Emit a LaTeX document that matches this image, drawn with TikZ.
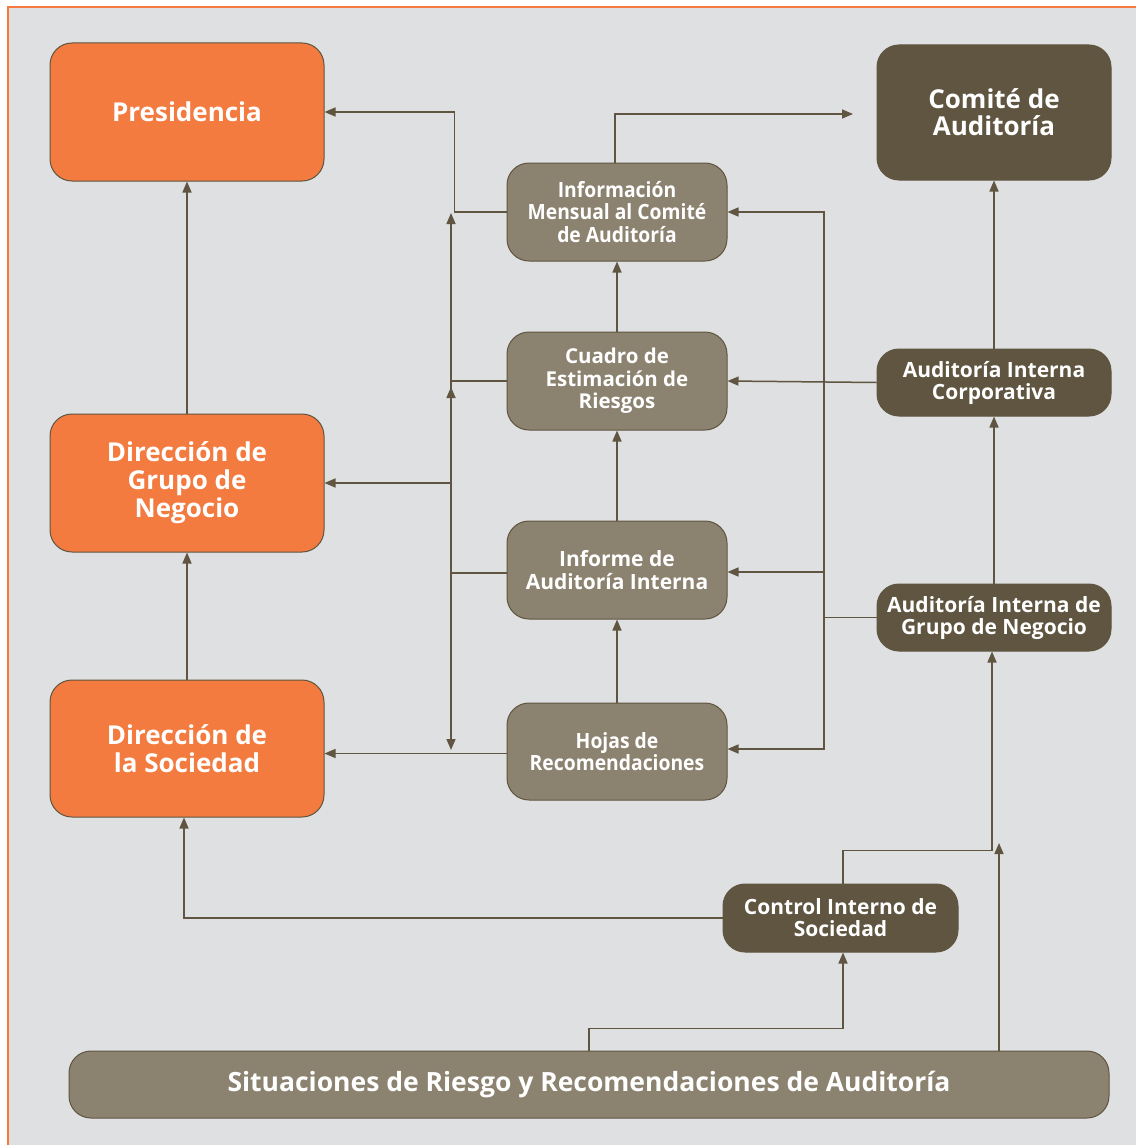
\documentclass[tikz,border=0pt]{standalone}
\usepackage{fontspec}
\setmainfont{Open Sans}
\newfontfamily\condfont[FakeStretch=0.92]{Open Sans}
\usetikzlibrary{arrows.meta,calc}
\definecolor{orng}{HTML}{F37B40}
\definecolor{darkb}{HTML}{5F5540}
\definecolor{medb}{HTML}{8C8270}
\definecolor{bgc}{HTML}{DFE0E2}
\definecolor{lnc}{HTML}{5F5540}
\tikzset{
  box/.style={draw=darkb, line width=1pt, rounded corners=22pt, text=white, align=center, inner sep=0pt},
  orbox/.style={box, fill=orng, minimum width=274pt, minimum height=138pt, font=\bfseries\fontsize{26}{28}\selectfont},
  mbox/.style={box, fill=medb, minimum width=220pt, minimum height=98pt, font=\bfseries\fontsize{20.5}{22.5}\selectfont},
  cbox/.style={mbox, font=\condfont\bfseries\fontsize{21}{22.5}\selectfont},
  dbox/.style={box, fill=darkb, minimum width=234pt, minimum height=67pt, font=\bfseries\fontsize{21}{22}\selectfont},
  arr/.style={draw=lnc, line width=1.5pt, -{Triangle[length=11pt,width=9pt]}},
  ln/.style={draw=lnc, line width=1.5pt},
}
\begin{document}
\begin{tikzpicture}[x=1pt,y=-1pt]
\useasboundingbox (0,0) rectangle (1136,1145);
\fill[white] (0,0) rectangle (1136,1145);
\fill[bgc] (8,7) rectangle (1136,1145);
\draw[orng, line width=2.5pt] (8,1145) -- (8,7) -- (1136,7);

% nodes
\node[orbox] (pres) at (187,112) {Presidencia};
\node[orbox] (grupo) at (187,483) {Dirección de\\Grupo de\\Negocio};
\node[orbox, minimum height=137pt] (soc) at (187,748.5) {Dirección de\\la Sociedad};
\node[dbox, minimum height=135pt, font=\bfseries\fontsize{26}{27}\selectfont] (comite) at (994,112.5) {Comité de\\Auditoría};
\node[dbox] (aic) at (994,382.5) {Auditoría Interna\\Corporativa};
\node[dbox] (aign) at (994,617.5) {Auditoría Interna de\\Grupo de Negocio};
\node[cbox] (info) at (617,212) {Información\\Mensual al Comité\\de Auditoría};
\node[mbox] (cuadro) at (617,381) {Cuadro de\\Estimación de\\Riesgos};
\node[mbox, font=\bfseries\fontsize{21}{23}\selectfont] (informe) at (617,570) {Informe de\\Auditoría Interna};
\node[cbox, minimum height=97pt] (hojas) at (617,751.5) {Hojas de\\Recomendaciones};
\node[dbox, minimum width=235pt, minimum height=68pt] (cis) at (840.5,918) {Control Interno de\\Sociedad};
\node[box, fill=medb, minimum width=1040pt, minimum height=67pt, font=\bfseries\fontsize{26.5}{28}\selectfont] (sit) at (589,1084.5) {Situaciones de Riesgo y Recomendaciones de Auditoría};

\coordinate (cend) at (853,114);
\coordinate (vtop) at (451,213);
\coordinate (vbot) at (451,750);
\coordinate (vmid) at (451,387);
\coordinate (free) at (999,843);

% left column
\draw[arr] (soc.north) -- (grupo.south);
\draw[arr] (grupo.north) -- (pres.south);
% middle column
\draw[arr] (hojas.north) -- (informe.south);
\draw[arr] (informe.north) -- (cuadro.south);
\draw[arr] (cuadro.north) -- (info.south);
% right column
\draw[arr] (aign.north) -- (aic.south);
\draw[arr] (aic.north) -- (comite.south);

% info connections
\draw[arr] (info.west) -- ++(-52,0) |- (pres.east);
\draw[arr] ([xshift=-2pt]info.north) |- (cend);

% left vertical bus
\draw[arr, {Triangle[length=11pt,width=9pt]}-{Triangle[length=11pt,width=9pt]}] (vbot) -- (vtop);
\draw[arr] (vmid |- grupo.east) -- (vmid);
\draw[ln] (cuadro.west) -- (cuadro.west -| vtop);
\draw[ln] ([yshift=-3pt]informe.west) -- ([yshift=-3pt]informe.west -| vtop);
\draw[arr] (grupo.east -| vtop) -- (grupo.east);
\draw[arr] ([yshift=-2pt]hojas.west) -- ([yshift=-2pt]hojas.west -| soc.east);

% right bus
\coordinate (rb) at (824,617.5);
\draw[ln] (aign.west) -- (rb);
\draw[arr] (rb) |- (info.east);
\draw[arr] (rb) |- ([yshift=2.5pt]hojas.east);
\draw[arr] (824,572) -- ([yshift=-2pt]informe.east);
\draw[arr] (aic.west) -- (cuadro.east);

% bottom
\draw[arr] ([xshift=2.5pt]cis.north) -- ++(0,-33) -| ([xshift=-2pt]aign.south);
\draw[arr] (sit.north) -- ++(0,-22) -| ([xshift=2.5pt]cis.south);
\draw[arr] (sit.north -| free) -- (free);
\draw[arr] (cis.west) -| ([xshift=-3pt]soc.south);
\end{tikzpicture}
\end{document}
